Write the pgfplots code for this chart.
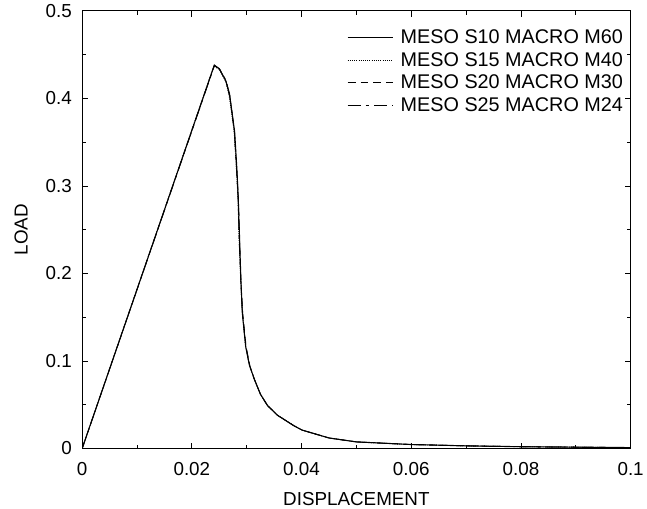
\documentclass[border=0pt]{standalone}
\usepackage{fontspec}
\setmainfont{Liberation Sans}
\usepackage{pgfplots}
\pgfplotsset{compat=1.18}
\begin{document}
\begin{tikzpicture}
\begin{axis}[
  at={(0,0)}, anchor=south west,
  scale only axis, width=554pt, height=442pt,
  xmin=0, xmax=0.1, ymin=0, ymax=0.5,
  xtick={0,0.02,0.04,0.06,0.08,0.1},
  xticklabels={0,0.02,0.04,0.06,0.08,0.1},
  ytick={0,0.1,0.2,0.3,0.4,0.5},
  yticklabels={0,0.1,0.2,0.3,0.4,0.5},
  minor xtick={0.01,0.03,0.05,0.07,0.09},
  minor ytick={0.05,0.15,0.25,0.35,0.45},
  tick align=inside,
  major tick length=6pt, minor tick length=4pt,
  every tick/.style={black, line width=0.8pt},
  axis line style={line width=0.9pt},
  tick label style={font=\fontsize{19}{22}\selectfont},
  label style={font=\fontsize{19}{22}\selectfont},
  xticklabel style={yshift=-10pt},
  yticklabel style={xshift=-7pt},
  xlabel={DISPLACEMENT},
  ylabel={LOAD},
  xlabel style={yshift=-10pt},
  ylabel style={yshift=11pt},
  legend style={at={(axis description cs:0.99,0.962)}, anchor=north east,
    draw=none, fill=none, inner sep=0pt, font=\fontsize{20}{23}\selectfont, row sep=3.5pt},
  legend cell align=left,
  legend image code/.code={\draw[#1] (0pt,0pt) -- (46pt,0pt); \path (51pt,0pt);},
]
\addplot[black, line width=1.1pt] coordinates {
(0,0) (0.0241,0.438) (0.0250,0.434) (0.0262,0.420) (0.0269,0.403) (0.0278,0.362)
(0.0282,0.320) (0.02846,0.286) (0.0287,0.240) (0.02894,0.192) (0.0292,0.155)
(0.0298,0.117) (0.0305,0.095) (0.0314,0.079) (0.0325,0.062) (0.0338,0.049)
(0.0356,0.038) (0.0386,0.026) (0.0401,0.021) (0.0450,0.012) (0.0500,0.0075)
(0.0600,0.0045) (0.0700,0.003) (0.0800,0.002) (0.0900,0.0015) (0.1000,0.001)};
\addlegendentry{MESO S10 MACRO M60}
\addplot[black, line width=0.8pt, dash pattern=on 1pt off 1.2pt] coordinates {
(0,0) (0.0240,0.437) (0.0250,0.433) (0.0262,0.419) (0.0268,0.403) (0.0277,0.363)
(0.0281,0.321) (0.02840,0.286) (0.0286,0.240) (0.02890,0.192) (0.0292,0.155)
(0.0298,0.117) (0.0305,0.095) (0.0314,0.079) (0.0325,0.062) (0.0338,0.049)
(0.0356,0.038) (0.0386,0.026) (0.0401,0.021) (0.0450,0.012) (0.0500,0.0075)
(0.0600,0.0045) (0.0700,0.003) (0.0800,0.002) (0.0900,0.0015) (0.1000,0.001)};
\addlegendentry{MESO S15 MACRO M40}
\addplot[black, line width=0.8pt, dash pattern=on 8pt off 5pt] coordinates {
(0,0) (0.0241,0.438) (0.0251,0.433) (0.0263,0.418) (0.0270,0.400) (0.0278,0.358)
(0.0282,0.318) (0.02850,0.284) (0.0287,0.238) (0.02896,0.190) (0.0293,0.153)
(0.0299,0.116) (0.0306,0.094) (0.0314,0.079) (0.0325,0.062) (0.0338,0.049)
(0.0356,0.038) (0.0386,0.026) (0.0401,0.021) (0.0450,0.012) (0.0500,0.0075)
(0.0600,0.0045) (0.0700,0.003) (0.0800,0.002) (0.0900,0.0015) (0.1000,0.001)};
\addlegendentry{MESO S20 MACRO M30}
\addplot[black, line width=0.8pt, dash pattern=on 13pt off 5pt on 4pt off 5pt] coordinates {
(0,0) (0.0241,0.437) (0.0250,0.434) (0.0262,0.421) (0.0269,0.405) (0.0277,0.366)
(0.0281,0.324) (0.02842,0.288) (0.0286,0.242) (0.02892,0.193) (0.0292,0.156)
(0.0298,0.118) (0.0305,0.095) (0.0314,0.079) (0.0325,0.062) (0.0338,0.049)
(0.0356,0.038) (0.0386,0.026) (0.0401,0.021) (0.0450,0.012) (0.0500,0.0075)
(0.0600,0.0045) (0.0700,0.003) (0.0800,0.002) (0.0900,0.0015) (0.1000,0.001)};
\addlegendentry{MESO S25 MACRO M24}
\end{axis}
\path (-83pt,-57pt) rectangle (564pt,453pt);
\end{tikzpicture}
\end{document}
